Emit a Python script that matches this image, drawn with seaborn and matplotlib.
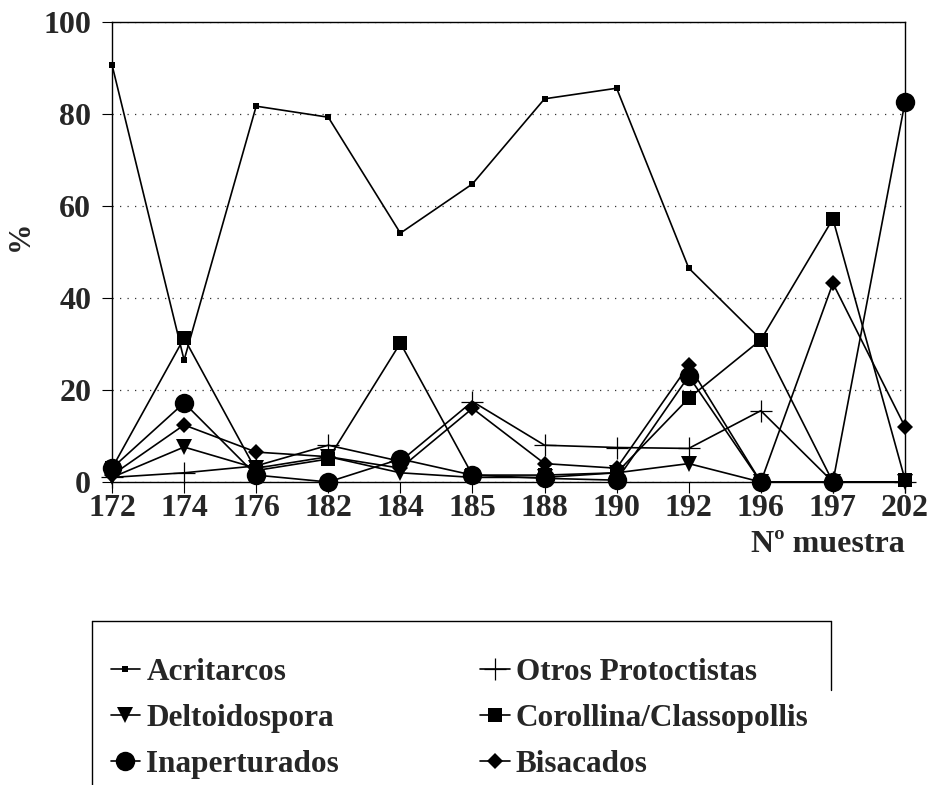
import matplotlib
matplotlib.use("Agg")
import matplotlib.pyplot as plt
from matplotlib.lines import Line2D
import seaborn as sns
import pandas as pd

# sample numbers on the x axis
muestras = ["172", "174", "176", "182", "184", "185", "188", "190", "192", "196", "197", "202"]

# percentages
acritarcos = [90.7, 26.5, 81.7, 79.3, 54.1, 64.8, 83.3, 85.6, 46.5, 31.0, 0.0, 0.0]
otros_protoctistas = [1.0, 2.0, 3.5, 8.0, 4.5, 17.5, 8.0, 7.5, 7.3, 15.5, 0.0, 0.0]
deltoidospora = [1.0, 7.6, 3.0, 5.5, 2.0, 1.0, 1.0, 2.0, 4.0, 0.0, 0.0, 0.0]
corollina = [3.0, 31.3, 2.5, 5.0, 30.2, 1.5, 1.5, 2.0, 18.2, 30.9, 57.2, 0.5]
inaperturados = [3.0, 17.2, 1.5, 0.0, 5.0, 1.5, 0.8, 0.4, 23.0, 0.0, 0.0, 82.6]
bisacados = [1.5, 12.4, 6.5, 5.5, 3.0, 16.0, 4.0, 3.0, 25.4, 0.0, 43.2, 12.0]

series_names = ["Acritarcos", "Otros Protoctistas", "Deltoidospora",
                "Corollina/Classopollis", "Inaperturados", "Bisacados"]
series_values = [acritarcos, otros_protoctistas, deltoidospora,
                 corollina, inaperturados, bisacados]

sns.set_theme(style="white")
plt.rcParams["font.family"] = ["Liberation Serif", "DejaVu Serif"]
plt.rcParams["font.weight"] = "bold"

# marker styles per series
styles = {
    "Acritarcos": dict(marker="s", markersize=4.5, mew=0),
    "Otros Protoctistas": dict(marker="+", markersize=16, mew=0.9),
    "Deltoidospora": dict(marker="v", markersize=11, mew=0),
    "Corollina/Classopollis": dict(marker="s", markersize=10, mew=0),
    "Inaperturados": dict(marker="o", markersize=14, mew=0),
    "Bisacados": dict(marker="D", markersize=8.5, mew=0),
}

fig = plt.figure(figsize=(9.31, 7.85), dpi=100)
ax = fig.add_axes([112 / 931, 1 - 482 / 785, (905 - 112) / 931, (482 - 22) / 785])

for name, vals in zip(series_names, series_values):
    df = pd.DataFrame({"muestra": muestras, "pct": vals})
    sns.lineplot(data=df, x="muestra", y="pct", ax=ax, color="black",
                 linewidth=1.2, markerfacecolor="black", markeredgecolor="black",
                 clip_on=False, zorder=3, **styles[name])

ax.set_xlim(0, len(muestras) - 1)
ax.set_ylim(0, 100)
ax.set_yticks([0, 20, 40, 60, 80, 100])
ax.yaxis.grid(True, color="#333333", linestyle=(0, (1, 5)), linewidth=0.9)
ax.xaxis.grid(False)
for sp in ax.spines.values():
    sp.set_color("black")
    sp.set_linewidth(1.0)

ax.tick_params(axis="x", direction="out", length=8, width=0.8, color="black",
               labelsize=23, pad=1, bottom=True)
ax.tick_params(axis="y", direction="out", length=7, width=0.8, color="black",
               labelsize=23, pad=8, left=True)
for lab in ax.get_xticklabels() + ax.get_yticklabels():
    lab.set_fontweight("bold")

ax.set_xlabel("")
ax.set_ylabel("")
fig.text(20 / 931, 1 - 236 / 785, "%", rotation=90, ha="center", va="center",
         fontsize=22, fontweight="bold")
fig.text(905 / 931, 1 - 545 / 785, "Nº muestra", ha="right", va="center",
         fontsize=23, fontweight="bold")

# legend
handles = [Line2D([0], [0], color="black", linewidth=1.2, **styles[n]) for n in series_names]
order = [0, 2, 4, 1, 3, 5]
leg = fig.legend([handles[i] for i in order], [series_names[i] for i in order],
                 loc="upper left", bbox_to_anchor=(98 / 931, 1 - 645 / 785),
                 ncol=2, frameon=False, prop=dict(family="Liberation Serif", weight="bold", size=22.5),
                 handlelength=0.95, handletextpad=0.2, columnspacing=4.5, labelspacing=0.55,
                 borderaxespad=0)

# legend frame (partly cut off at the bottom, like the original)
fig.add_artist(Line2D([92 / 931, 831 / 931], [1 - 621 / 785, 1 - 621 / 785], color="black", lw=1.0))
fig.add_artist(Line2D([92 / 931, 92 / 931], [1 - 621 / 785, 0], color="black", lw=1.0))
fig.add_artist(Line2D([831 / 931, 831 / 931], [1 - 621 / 785, 1 - 690 / 785], color="black", lw=1.0))

fig.savefig("out.png", dpi=100)
